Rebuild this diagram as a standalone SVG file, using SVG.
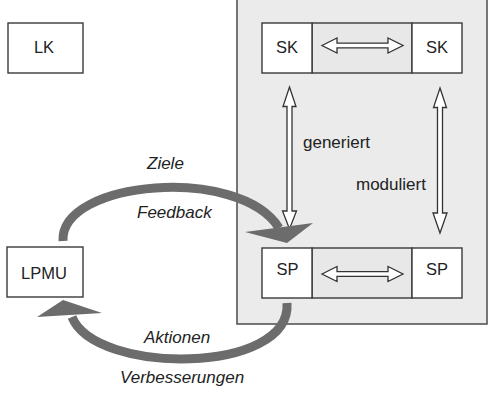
<svg xmlns="http://www.w3.org/2000/svg" width="490" height="399" viewBox="0 0 490 399">
  <style>
    .bg { fill: #ffffff; }
    .panel { fill: #ebebeb; stroke: #555555; stroke-width: 1.6; }
    .box { fill: #ffffff; stroke: #3a3a3a; stroke-width: 1.4; }
    .cell { fill: #e8e8e8; stroke: #3a3a3a; stroke-width: 1.4; }
    .lbl { font-family: "Liberation Sans", Arial, sans-serif; font-size: 16.5px; fill: #222222; text-anchor: middle; }
    .note { font-family: "Liberation Sans", Arial, sans-serif; font-size: 17px; fill: #222222; }
    .it { font-style: italic; }
    .hollow { fill: #ffffff; stroke: #333333; stroke-width: 1.3; stroke-linejoin: miter; }
    .flow { fill: none; stroke: #6c6c6c; stroke-width: 9; }
    .head { fill: #6c6c6c; }
  </style>

  <rect class="bg" x="0" y="0" width="490" height="399"/>

  <!-- system panel -->
  <rect class="panel" x="237" y="-5" width="250" height="329"/>

  <g id="LK">
    <rect class="box" x="8" y="23" width="75" height="50"/>
    <text class="lbl" x="44" y="52.5">LK</text>
  </g>

  <g id="LPMU">
    <rect class="box" x="7" y="247" width="76" height="50"/>
    <text class="lbl" x="44" y="279">LPMU</text>
  </g>

  <g id="SK-row">
    <rect class="cell" x="312" y="23" width="100" height="50"/>
    <g id="SK-left">
      <rect class="box" x="262" y="23" width="50" height="50"/>
      <text class="lbl" x="287" y="53">SK</text>
    </g>
    <g id="SK-right">
      <rect class="box" x="412" y="23" width="50" height="50"/>
      <text class="lbl" x="437" y="53">SK</text>
    </g>
  </g>

  <g id="SP-row">
    <rect class="cell" x="312" y="248" width="100" height="50"/>
    <g id="SP-left">
      <rect class="box" x="262" y="248" width="50" height="50"/>
      <text class="lbl" x="287.5" y="275">SP</text>
    </g>
    <g id="SP-right">
      <rect class="box" x="412" y="248" width="50" height="50"/>
      <text class="lbl" x="437" y="275">SP</text>
    </g>
  </g>

  <g id="connectors">
    <!-- horizontal double arrows -->
    <path class="hollow" d="M322,45.5 L337,38 L337,43.2 L388,43.2 L388,38 L403,45.5 L388,53 L388,47.8 L337,47.8 L337,53 Z"/>
    <path class="hollow" d="M322,274 L337,266.5 L337,271.7 L388,271.7 L388,266.5 L403,274 L388,281.5 L388,276.3 L337,276.3 L337,281.5 Z"/>
    <!-- vertical double arrows -->
    <path class="hollow" d="M289.5,87 L296,106.5 L292,106.5 L292,211 L296.5,211 L289.5,229 L282.5,211 L287,211 L287,106.5 L283,106.5 Z"/>
    <path class="hollow" d="M440,88 L446.5,107.5 L442.5,107.5 L442.5,213 L447,213 L440,233 L433,213 L437.5,213 L437.5,107.5 L433.5,107.5 Z"/>

    <!-- feedback loop -->
    <path class="flow" d="M63,241 C60,180 240,165 279,228"/>
    <polygon class="head" points="245,232 313,223 287,243"/>
    <path class="flow" d="M287,303 C292,375 95,375 72,317"/>
    <polygon class="head" points="37,317 63,300 102,313"/>
  </g>

  <g id="labels">
    <text class="note" x="303" y="148">generiert</text>
    <text class="note" x="356" y="190">moduliert</text>
    <text class="note it" x="147" y="169">Ziele</text>
    <text class="note it" x="137" y="218">Feedback</text>
    <text class="note it" x="144" y="343">Aktionen</text>
    <text class="note it" x="120" y="383">Verbesserungen</text>
  </g>
</svg>
